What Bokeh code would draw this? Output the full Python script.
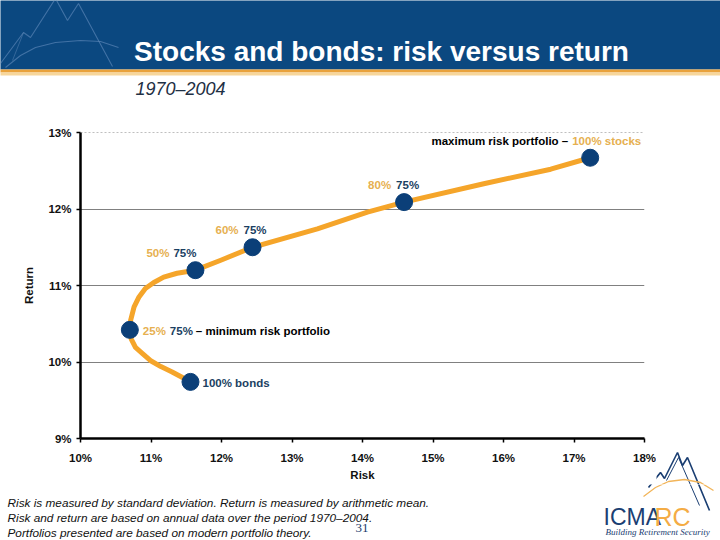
from bokeh.plotting import figure
from bokeh.layouts import column, row
from bokeh.models import Range1d, Span, FixedTicker
from bokeh.core.properties import value
from bokeh.embed import file_html
from bokeh.resources import INLINE

# ---------------- data ----------------
title_text = "Stocks and bonds: risk versus return"
subtitle_text = "1970\u20132004"

# portfolio points (risk %, return %)
port_names = ["100% bonds", "25% mix", "50% mix", "60% mix", "80% mix", "100% stocks"]
port_risk = [11.56, 10.70, 11.63, 12.44, 14.59, 17.23]
port_return = [9.74, 10.42, 11.20, 11.50, 12.09, 12.67]

# efficient frontier curve (from 100% bonds to 100% stocks)
curve_risk = [11.56, 11.44, 11.30, 11.14, 10.99, 10.88, 10.78, 10.72, 10.70, 10.71,
              10.76, 10.83, 10.92, 11.04, 11.18, 11.37, 11.63, 11.99, 12.44, 13.36,
              14.07, 14.59, 15.72, 16.67, 17.23]
curve_return = [9.74, 9.80, 9.87, 9.94, 10.02, 10.11, 10.19, 10.30, 10.42, 10.54,
                10.72, 10.85, 10.96, 11.04, 11.11, 11.16, 11.20, 11.33, 11.50, 11.74,
                11.96, 12.09, 12.33, 12.52, 12.67]

x_ticks = [10, 11, 12, 13, 14, 15, 16, 17, 18]
x_tick_labels = ["10%", "11%", "12%", "13%", "14%", "15%", "16%", "17%", "18%"]
y_ticks = [9, 10, 11, 12, 13]
y_tick_labels = ["9%", "10%", "11%", "12%", "13%"]
x_label = "Risk"
y_label = "Return"

footer_lines = [
    "Risk is measured by standard deviation. Return is measured by arithmetic mean.",
    "Risk and return are based on annual data over the period 1970\u20132004.",
    "Portfolios presented are based on modern portfolio theory.",
]
page_number = "31"
logo_left = "ICMA"
logo_right = "RC"
logo_tag = "Building Retirement Security"

# ---------------- styles ----------------
NAVY = "#0b3f78"
HEADER = "#0b4880"
ORANGE = "#f5a52a"
LBL_ORANGE = "#e6b050"
LBL_NAVY = "#1b3f62"
LOGO_NAVY = "#1a3e72"
LOGO_ORANGE = "#f4ac45"
FONT = "Liberation Sans"


def deco_fig(w, h, x0, x1, ytop, ybot):
    """A figure whose frame fills its canvas; coordinates are page pixels."""
    f = figure(width=w, height=h, output_backend="svg", toolbar_location=None,
               x_range=Range1d(x0, x1), y_range=Range1d(ybot, ytop),
               x_axis_location=None, y_axis_location=None, min_border=0)
    f.grid.visible = False
    f.outline_line_color = None
    f.background_fill_color = "white"
    f.border_fill_color = "white"
    return f


def txt(f, x, y, t, size, color, style="normal", font=FONT, align="left"):
    f.text(x=[x], y=[y], text=[t], text_font=value(font), text_font_style=style,
           text_font_size=size, text_color=color, text_align=align,
           text_baseline="middle")


# ---------------- header (page y 0..104) ----------------
hdr = deco_fig(720, 104, 0, 720, 0, 104)
hdr.quad(left=[-5], right=[725], top=[-5], bottom=[69], fill_color=HEADER, line_color=None)
hdr.quad(left=[-5], right=[725], top=[69], bottom=[72], fill_color="#e9a23b", line_color=None)
hdr.quad(left=[-5], right=[725], top=[72], bottom=[75], fill_color="#f7d69a", line_color=None)
hm = "#5f88b8"
hdr.line([0, 23, 30, 55], [63, 32, 37, -2], line_color=hm, line_width=1.1, line_alpha=0.65)
hdr.line([55, 67, 78, 112], [-2, 20, 3, 66], line_color=hm, line_width=1.1, line_alpha=0.65)
hdr.line([23, 12], [32, 60], line_color=hm, line_width=0.9, line_alpha=0.55)
hdr.line([5, 20, 35, 55, 80, 100, 118], [67, 55, 47, 42, 40, 41, 47], line_color=hm,
         line_width=1.1, line_alpha=0.65)
txt(hdr, 381, 51, title_text, "28px", "white", "bold", align="center")
txt(hdr, 135, 88, subtitle_text, "18px", "#1f3044", "italic")

# ---------------- main chart (page y 104..484, x 0..656) ----------------
p = figure(width=656, height=380, output_backend="svg", toolbar_location=None,
           x_range=Range1d(10, 18), y_range=Range1d(9, 13),
           min_border_left=80, min_border_right=12, min_border_top=28,
           min_border_bottom=46)
p.outline_line_color = None
p.background_fill_color = "white"
p.border_fill_color = "white"

p.xgrid.visible = False
p.ygrid.ticker = FixedTicker(ticks=[t for t in y_ticks if t not in (min(y_ticks), max(y_ticks))])
p.ygrid.grid_line_color = "#808080"
p.ygrid.grid_line_width = 1
p.add_layout(Span(location=max(y_ticks), dimension="width", line_color="#808080",
                  line_dash="2 2", line_width=1))

for ax in (p.xaxis[0], p.yaxis[0]):
    ax.axis_line_color = "black"
    ax.axis_line_width = 2.5
    ax.major_tick_line_color = "black"
    ax.major_tick_line_width = 1.5
    ax.major_tick_out = 4
    ax.major_tick_in = 0
    ax.minor_tick_line_color = None
    ax.major_label_text_font = FONT
    ax.major_label_text_font_style = "bold"
    ax.major_label_text_font_size = "11.5px"
    ax.major_label_text_color = "#111111"
    ax.axis_label_text_font = FONT
    ax.axis_label_text_font_style = "bold"
    ax.axis_label_text_font_size = "11.5px"
    ax.axis_label_text_color = "#111111"

p.xaxis.ticker = FixedTicker(ticks=x_ticks)
p.xaxis.major_label_overrides = {t: l for t, l in zip(x_ticks, x_tick_labels)}
p.xaxis.major_label_standoff = 9
p.xaxis.axis_label = x_label
p.xaxis.axis_label_standoff = 2

p.yaxis.ticker = FixedTicker(ticks=y_ticks)
p.yaxis.major_label_overrides = {t: l for t, l in zip(y_ticks, y_tick_labels)}
p.yaxis.major_label_standoff = 5
p.yaxis.axis_label = y_label
p.yaxis.axis_label_standoff = 10

p.line(curve_risk, curve_return, line_color=ORANGE, line_width=5, line_join="round",
       line_cap="round")
p.scatter(port_risk, port_return, size=17, fill_color=NAVY, line_color=NAVY)

# point labels: (portfolio index, text, color, x offset px, y offset px, align)
label_specs = [
    (5, "maximum risk portfolio \u2013", "black", -22, -17, "right"),
    (5, "100% stocks", LBL_ORANGE, -18, -17, "left"),
    (4, "80%", LBL_ORANGE, -36, -17, "left"),
    (4, "75%", LBL_NAVY, -8, -17, "left"),
    (3, "60%", LBL_ORANGE, -37, -17, "left"),
    (3, "75%", LBL_NAVY, -9, -17, "left"),
    (2, "50%", LBL_ORANGE, -49, -17, "left"),
    (2, "75%", LBL_NAVY, -22, -17, "left"),
    (1, "25%", LBL_ORANGE, 13, 1, "left"),
    (1, "75%", LBL_NAVY, 40, 1, "left"),
    (1, "\u2013 minimum risk portfolio", "black", 66, 1, "left"),
    (0, "100% bonds", LBL_NAVY, 12, 1, "left"),
]
for i, t, c, dx, dy, al in label_specs:
    p.text(x=[port_risk[i]], y=[port_return[i]], text=[t], x_offset=dx, y_offset=dy,
           text_font=value(FONT), text_font_style="bold", text_font_size="11.5px",
           text_color=c, text_align=al, text_baseline="middle")


# ---------------- logo mountains (drawn in both the side strip and footer) ------
def logo_lines(f):
    f.line([648, 660, 664, 677, 682, 687, 709], [487, 472, 478, 452, 465, 457, 510],
           line_color=LOGO_NAVY, line_width=1.6)
    f.line([666, 678, 699], [480, 457, 505], line_color=LOGO_NAVY, line_width=1.0)
    f.line([643, 655, 668, 684, 700, 713], [496, 487, 481, 479, 482, 490],
           line_color="#f2b55a", line_width=1.3)


side = deco_fig(64, 380, 656, 720, 104, 484)
logo_lines(side)

# ---------------- footer (page y 484..540) ----------------
ftr = deco_fig(720, 56, 0, 720, 484, 540)
logo_lines(ftr)
for ln, yy in zip(footer_lines, [502.5, 517.5, 532.5]):
    txt(ftr, 7, yy, ln, "11.8px", "#111111", "italic")
txt(ftr, 355, 527, page_number, "13px", "#1a3a6a", font="Liberation Serif")
txt(ftr, 603, 516, logo_left, "23px", LOGO_NAVY)
txt(ftr, 654, 516, logo_right, "25px", LOGO_ORANGE)
txt(ftr, 605, 531, logo_tag, "9px", LOGO_NAVY, "italic", font="Liberation Serif")

layout = column(hdr, row(p, column(side)), ftr, spacing=0)
open("out.html", "w").write(file_html(layout, INLINE))
